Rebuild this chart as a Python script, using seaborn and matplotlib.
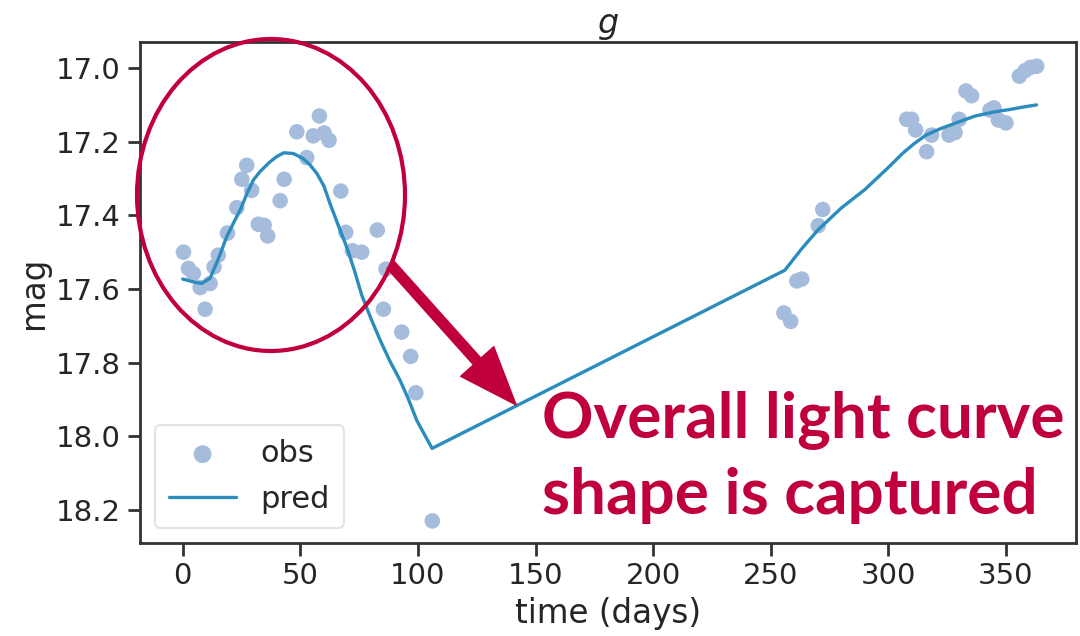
import numpy as np
import pandas as pd
import matplotlib
matplotlib.use("Agg")
import matplotlib.pyplot as plt
import seaborn as sns
from matplotlib.patches import Ellipse, FancyArrowPatch

# ---- data ----
obs_time = [0.3, 2.4, 4.5, 7.4, 9.5, 11.6, 13.3, 15.1, 19.0, 23.0, 25.1, 27.2, 29.3,
            32.1, 34.6, 36.1, 41.4, 43.1, 48.5, 52.7, 55.5, 58.1, 60.1, 62.2, 67.2,
            69.3, 72.1, 76.1, 82.7, 86.4, 85.3, 93.1, 96.9, 99.1, 106.1,
            255.6, 258.5, 261.1, 263.2, 270.2, 272.1,
            307.8, 309.9, 311.6, 316.3, 318.4, 325.8, 328.4, 330.1, 333.0, 335.4,
            343.2, 344.9, 346.8, 350.0, 355.7, 358.1, 360.5, 363.1]
obs_mag = [17.500, 17.544, 17.558, 17.596, 17.655, 17.585, 17.540, 17.508, 17.448,
           17.379, 17.302, 17.264, 17.332, 17.424, 17.427, 17.456, 17.360, 17.302,
           17.173, 17.243, 17.184, 17.130, 17.176, 17.196, 17.334, 17.446, 17.496,
           17.500, 17.440, 17.546, 17.655, 17.717, 17.783, 17.882, 18.230,
           17.665, 17.688, 17.578, 17.573, 17.428, 17.384,
           17.139, 17.139, 17.168, 17.227, 17.182, 17.182, 17.175, 17.139, 17.062,
           17.075, 17.114, 17.108, 17.141, 17.149, 17.022, 17.007, 16.998, 16.995]

pred_time = [0, 4, 8, 11.6, 15, 18.7, 22, 24.4, 27, 30, 33, 37, 40, 43, 47, 51, 54,
             57, 60, 62.6, 66, 69.7, 73, 76, 80, 84, 88, 92.4, 96, 99.5, 106,
             256, 263, 270, 280, 290, 300, 306, 311, 316, 322, 330, 337, 345, 352,
             358, 363]
pred_mag = [17.573, 17.580, 17.585, 17.571, 17.520, 17.458, 17.415, 17.386, 17.345,
            17.304, 17.280, 17.255, 17.240, 17.230, 17.232, 17.245, 17.262, 17.286,
            17.320, 17.368, 17.425, 17.486, 17.550, 17.615, 17.680, 17.740, 17.795,
            17.848, 17.900, 17.957, 18.033,
            17.549, 17.492, 17.440, 17.380, 17.330, 17.270, 17.232, 17.205, 17.182,
            17.165, 17.146, 17.130, 17.119, 17.112, 17.105, 17.100]

x_ticks = [0, 50, 100, 150, 200, 250, 300, 350]
y_ticks = [17.0, 17.2, 17.4, 17.6, 17.8, 18.0, 18.2]

title = "$g$"
xlabel = "time (days)"
ylabel = "mag"
note = "Overall light curve\nshape is captured"

obs_df = pd.DataFrame({"time": obs_time, "mag": obs_mag})
pred_df = pd.DataFrame({"time": pred_time, "mag": pred_mag})

# ---- style ----
sns.set_theme(style="ticks")
plt.rcParams["font.family"] = ["DejaVu Sans"]

OBS_C = "#a5bcdd"
PRED_C = "#2b8cbe"
RED = "#c0003c"
TXT = "#262626"

fig = plt.figure(figsize=(10.8, 6.36), dpi=100)
ax = fig.add_axes([0.1296, 0.1462, 0.8667, 0.7878])

sns.scatterplot(data=obs_df, x="time", y="mag", ax=ax, color=OBS_C, s=125,
                edgecolor="none", label="obs", zorder=2)
sns.lineplot(data=pred_df, x="time", y="mag", ax=ax, color=PRED_C, lw=2.4,
             label="pred", zorder=3, sort=False)

ax.set_xlim(-18.2, 379.8)
ax.set_ylim(18.29, 16.929)
ax.set_xticks(x_ticks)
ax.set_yticks(y_ticks)
ax.set_yticklabels([f"{v:.1f}" for v in y_ticks])
ax.tick_params(labelsize=21, length=9, width=2, colors="#333333", labelcolor=TXT, pad=5)
for s in ax.spines.values():
    s.set_linewidth(2)
    s.set_color("#333333")
ax.set_xlabel(xlabel, fontsize=23.5, color=TXT, labelpad=5)
ax.set_ylabel(ylabel, fontsize=23.5, color=TXT, labelpad=4)
ax.set_title(title, fontsize=24, color=TXT, pad=3)

leg = ax.legend(loc="lower left", fontsize=22, frameon=True, borderpad=0.45,
                handlelength=2.2, handletextpad=0.8, labelspacing=0.55,
                markerscale=1.15, bbox_to_anchor=(0.0, 0.0), borderaxespad=0.5)
leg.get_frame().set_edgecolor("#dddddd")
leg.get_frame().set_linewidth(1.5)

# ---- annotations (figure pixel coordinates) ----
W, H = 1080, 636
def fx(px):
    return px / W
def fy(py):
    return 1 - py / H

ell = Ellipse((fx(271), fy(195)), width=268 / W, height=312 / H,
              transform=fig.transFigure, fill=False, edgecolor=RED, lw=3, zorder=5)
fig.patches.append(ell)

arr = FancyArrowPatch((fx(389), fy(263)), (fx(518), fy(407)),
                      transform=fig.transFigure,
                      arrowstyle="simple,head_width=1.6,head_length=2.1,tail_width=0.36",
                      mutation_scale=20, color=RED, zorder=5)
fig.patches.append(arr)

fig.text(fx(542), fy(457), note, fontsize=46, fontweight="bold", color=RED,
         family=["Lato", "DejaVu Sans"], ha="left", va="center", linespacing=1.38)

fig.savefig("out.png", dpi=100)
